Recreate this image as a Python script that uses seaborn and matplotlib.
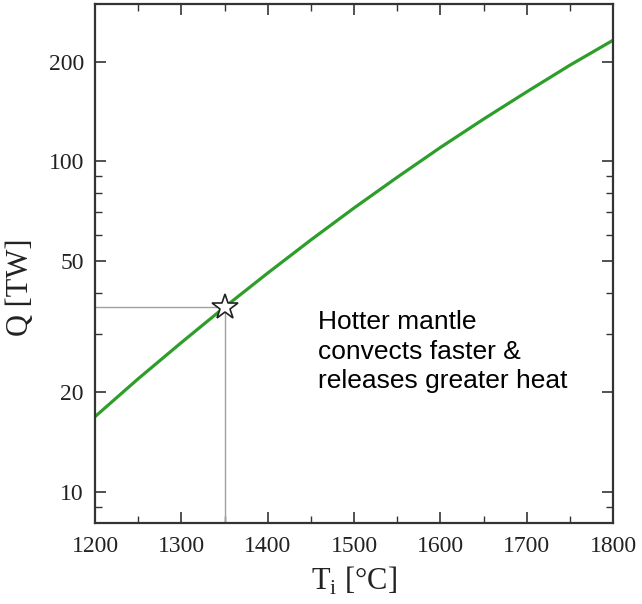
import matplotlib
matplotlib.use("Agg")
import matplotlib.pyplot as plt
import matplotlib.ticker as mticker
import pandas as pd
import seaborn as sns

# valores
temps = [1200, 1250, 1300, 1350, 1400, 1450, 1500, 1550, 1600, 1650, 1700, 1750, 1800]
heat_flow = [16.9, 22.0, 28.3, 36.2, 45.9, 57.8, 72.2, 89.4, 110, 134, 162, 195, 232]
present_T = 1350
present_Q = 36.2
y_ticks = [10, 20, 50, 100, 200]
x_ticks = [1200, 1300, 1400, 1500, 1600, 1700, 1800]
note = "Hotter mantle\nconvects faster &\nreleases greater heat"

df = pd.DataFrame({"T": temps, "Q": heat_flow})

sns.set_style("ticks")
serif = ["Liberation Serif", "DejaVu Serif"]

fig = plt.figure(figsize=(6.42, 6.04), dpi=100)
ax = fig.add_axes([0.148, 0.134, 0.807, 0.859])

# guías grises hasta el punto actual
ax.plot([1200, present_T], [present_Q, present_Q], color="#a0a0a0", lw=1.0, zorder=1)
ax.plot([present_T, present_T], [8.06, present_Q], color="#a0a0a0", lw=1.0, zorder=1)

sns.lineplot(data=df, x="T", y="Q", ax=ax, color="#2e9e2a", lw=2.3, zorder=2)
ax.plot([present_T], [present_Q], marker="*", ms=19, mfc="white", mec="#222222",
        mew=1.2, zorder=3, ls="none")

ax.set_yscale("log")
ax.set_xlim(1200, 1800)
ax.set_ylim(8.06, 298)
ax.set_xticks(x_ticks)
ax.xaxis.set_minor_locator(mticker.MultipleLocator(50))
ax.set_yticks(y_ticks)
ax.yaxis.set_major_formatter(mticker.FixedFormatter([str(v) for v in y_ticks]))
ax.yaxis.set_minor_locator(mticker.LogLocator(base=10, subs=[3, 4, 6, 7, 8, 9]))
ax.yaxis.set_minor_formatter(mticker.NullFormatter())

ax.tick_params(which="both", direction="in", top=True, right=True, color="#333333")
ax.tick_params(which="major", length=8, width=1.2)
ax.tick_params(which="minor", length=5, width=1.0)
for lab in ax.get_xticklabels() + ax.get_yticklabels():
    lab.set_family(serif)
    lab.set_fontsize(17)
    lab.set_color("#222222")
ax.tick_params(axis="x", pad=9)
ax.tick_params(axis="y", pad=8)

for sp in ax.spines.values():
    sp.set_linewidth(1.6)
    sp.set_color("#333333")

ax.set_xlabel(r"T$_\mathregular{i}$ [°C]", family=serif, fontsize=22, color="#222222", labelpad=6)
ax.set_ylabel("Q [TW]", family=serif, fontsize=22, color="#222222")
ax.yaxis.set_label_coords(-0.116, 0.455)

ax.text(1458, 35.5, note, family=["Liberation Sans", "DejaVu Sans"], fontsize=19,
        va="top", ha="left", linespacing=1.3, color="black")

plt.savefig("out.png", dpi=100)
plt.close(fig)
